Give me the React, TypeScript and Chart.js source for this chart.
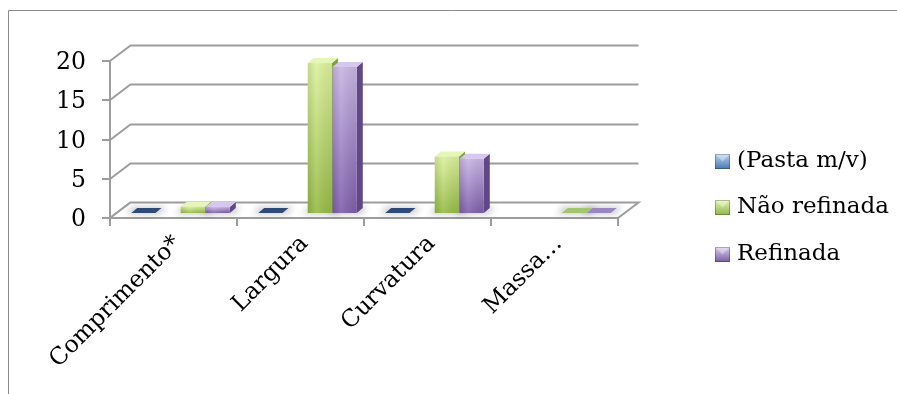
import { useEffect, useRef } from 'react';
import { Chart, registerables } from 'chart.js';

Chart.register(...registerables);

// Data
const categories = ['Comprimento*', 'Largura', 'Curvatura', 'Massa…'];
const pastaValues: (number | null)[] = [0, 0, 0, null];
const naoRefinadaValues: (number | null)[] = [0.8, 19.1, 7.2, 0];
const refinadaValues: (number | null)[] = [0.75, 18.6, 6.9, 0];
const seriesNames = ['(Pasta m/v)', 'Não refinada', 'Refinada'];
const yMin = 0;
const yMax = 20;
const yStep = 5;

// Look
const FONT = '23.5px "DejaVu Serif", "Liberation Serif", serif';
const LEGEND_FONT = '23px "DejaVu Serif", "Liberation Serif", serif';
const GRID = '#9d9d9d';
const DEPTH = { dx: 20.5, dy: -15.5 }; // full depth of the floor / side wall
const BAR_SHIFT = { dx: 7, dy: -5 }; // bars sit this far back from the front edge
const BAR_DEPTH = { dx: 6, dy: -5 }; // thickness of each column

type Palette = { light: string; dark: string; side: string; top: string; flat: string; box: [string, string] };
const palettes: Palette[] = [
  { light: '#7b9ed0', dark: '#2f4f80', side: '#223a60', top: '#5a7fb6', flat: '#2d4a79', box: ['#b9d3f0', '#4a78b5'] },
  { light: '#dcf19c', dark: '#95bb45', side: '#7ea13a', top: '#e6f6b8', flat: '#a3c56f', box: ['#e3f3b0', '#8fb74a'] },
  { light: '#c8b5e4', dark: '#7e5eaa', side: '#5f4788', top: '#d5c7ee', flat: '#9a86c1', box: ['#d8cbeb', '#7b5ea6'] },
];

const threeD = {
  id: 'threeD',
  beforeDatasetsDraw(chart: any) {
    const { ctx, chartArea: a, scales } = chart;
    const x = scales.x;
    const y = scales.y;
    const fl = a.left - BAR_SHIFT.dx;
    const fr = a.right - BAR_SHIFT.dx;
    const fy = (v: number) => y.getPixelForValue(v) - BAR_SHIFT.dy;
    const y0 = fy(yMin);

    ctx.save();

    // outer frame
    ctx.strokeStyle = '#8a8a8a';
    ctx.lineWidth = 1;
    ctx.beginPath();
    ctx.moveTo(8.5, chart.height);
    ctx.lineTo(8.5, 10.5);
    ctx.lineTo(chart.width, 10.5);
    ctx.stroke();

    // back wall gridlines and left wall diagonals
    ctx.strokeStyle = GRID;
    ctx.lineWidth = 2;
    ctx.lineJoin = 'miter';
    y.ticks.forEach((t: any) => {
      const yy = Math.round(fy(t.value));
      ctx.beginPath();
      ctx.moveTo(fl, yy);
      ctx.lineTo(fl + DEPTH.dx, yy + DEPTH.dy);
      if (t.value !== yMin) ctx.lineTo(fr + DEPTH.dx, yy + DEPTH.dy);
      ctx.stroke();
    });

    // floor
    ctx.beginPath();
    ctx.moveTo(fl, y0);
    ctx.lineTo(fr, y0);
    ctx.lineTo(fr + DEPTH.dx, y0 + DEPTH.dy);
    ctx.lineTo(fl + DEPTH.dx, y0 + DEPTH.dy);
    ctx.closePath();
    ctx.fillStyle = '#ffffff';
    ctx.fill();
    ctx.stroke();

    // front value axis with ticks
    const yTop = Math.round(fy(yMax));
    ctx.beginPath();
    ctx.moveTo(fl, yTop);
    ctx.lineTo(fl, y0 + 8);
    y.ticks.forEach((t: any) => {
      const yy = Math.round(fy(t.value));
      ctx.moveTo(fl - 8, yy);
      ctx.lineTo(fl, yy);
    });
    ctx.stroke();

    // category axis ticks
    const half = (x.getPixelForValue(1) - x.getPixelForValue(0)) / 2;
    ctx.beginPath();
    for (let i = 0; i <= categories.length; i++) {
      const xb = Math.round(x.getPixelForValue(0) - half + i * 2 * half - BAR_SHIFT.dx);
      ctx.moveTo(xb, y0);
      ctx.lineTo(xb, y0 + 8);
    }
    ctx.stroke();

    // value labels
    ctx.fillStyle = '#000';
    ctx.font = FONT;
    ctx.textAlign = 'right';
    ctx.textBaseline = 'middle';
    y.ticks.forEach((t: any) => {
      ctx.fillText(String(t.value), fl - 24, fy(t.value) + 2);
    });

    // category labels, rotated
    chart.data.labels.forEach((lab: string, i: number) => {
      const cx = x.getPixelForValue(i) - BAR_SHIFT.dx;
      ctx.save();
      ctx.translate(cx + 4, y0 + 22);
      ctx.rotate(-Math.PI / 4);
      ctx.textAlign = 'right';
      ctx.textBaseline = 'middle';
      ctx.fillText(lab, 0, 0);
      ctx.restore();
    });

    ctx.restore();
  },

  afterDatasetsDraw(chart: any) {
    const { ctx } = chart;
    const bars: { x0: number; x1: number; top: number; base: number; p: Palette }[] = [];
    chart.data.datasets.forEach((ds: any, di: number) => {
      if (ds.paletteIndex === undefined) return;
      const meta = chart.getDatasetMeta(di);
      meta.data.forEach((el: any, i: number) => {
        if (ds.data[i] === null || ds.data[i] === undefined) return;
        const w = el.width;
        bars.push({ x0: el.x - w / 2, x1: el.x + w / 2, top: el.y, base: el.base, p: palettes[ds.paletteIndex] });
      });
    });
    // left to right so neighbours cover hidden side faces
    bars.sort((a, b) => a.x0 - b.x0);

    ctx.save();
    // soft contact shadows on the floor
    ctx.filter = 'blur(3px)';
    ctx.fillStyle = 'rgba(60,60,60,0.28)';
    bars.forEach((b) => {
      ctx.beginPath();
      ctx.moveTo(b.x0 - 5, b.base + 1);
      ctx.lineTo(b.x1 + 5, b.base + 1);
      ctx.lineTo(b.x1 + BAR_DEPTH.dx + 5, b.base + BAR_DEPTH.dy - 1);
      ctx.lineTo(b.x0 + BAR_DEPTH.dx - 5, b.base + BAR_DEPTH.dy - 1);
      ctx.closePath();
      ctx.fill();
    });
    ctx.filter = 'none';

    const { dx, dy } = BAR_DEPTH;
    bars.forEach((b) => {
      const h = b.base - b.top;
      const flat = h < 0.5;
      // side face
      if (!flat) {
        ctx.fillStyle = b.p.side;
        ctx.beginPath();
        ctx.moveTo(b.x1, b.top);
        ctx.lineTo(b.x1 + dx, b.top + dy);
        ctx.lineTo(b.x1 + dx, b.base + dy);
        ctx.lineTo(b.x1, b.base);
        ctx.closePath();
        ctx.fill();
      }
      // top face
      ctx.fillStyle = flat ? b.p.flat : b.p.top;
      ctx.beginPath();
      ctx.moveTo(b.x0, b.top);
      ctx.lineTo(b.x0 + dx, b.top + dy);
      ctx.lineTo(b.x1 + dx, b.top + dy);
      ctx.lineTo(b.x1, b.top);
      ctx.closePath();
      ctx.fill();
      // front face
      if (!flat) {
        const g = ctx.createLinearGradient(0, b.top, 0, b.base);
        g.addColorStop(0, b.p.light);
        g.addColorStop(1, b.p.dark);
        ctx.fillStyle = g;
        ctx.fillRect(b.x0, b.top, b.x1 - b.x0, h);
        // gentle edge shading
        const hg = ctx.createLinearGradient(b.x0, 0, b.x1, 0);
        hg.addColorStop(0, 'rgba(0,0,0,0.10)');
        hg.addColorStop(0.35, 'rgba(255,255,255,0.10)');
        hg.addColorStop(1, 'rgba(0,0,0,0.06)');
        ctx.fillStyle = hg;
        ctx.fillRect(b.x0, b.top, b.x1 - b.x0, h);
      }
    });
    ctx.restore();
  },

  afterDraw(chart: any) {
    const { ctx } = chart;
    ctx.save();
    ctx.font = LEGEND_FONT;
    ctx.textAlign = 'left';
    ctx.textBaseline = 'middle';
    let row = 0;
    chart.data.datasets.forEach((ds: any) => {
      if (ds.paletteIndex === undefined) return;
      const p = palettes[ds.paletteIndex];
      const cy = 161 + row * 46.5;
      const bx = 715;
      const by = Math.round(cy - 7.5);
      const g = ctx.createLinearGradient(0, by, 0, by + 15);
      g.addColorStop(0, p.box[0]);
      g.addColorStop(1, p.box[1]);
      ctx.fillStyle = g;
      ctx.fillRect(bx, by, 15, 15);
      // bevel
      ctx.fillStyle = 'rgba(255,255,255,0.35)';
      ctx.beginPath();
      ctx.moveTo(bx, by);
      ctx.lineTo(bx + 15, by);
      ctx.lineTo(bx + 7.5, by + 7.5);
      ctx.closePath();
      ctx.fill();
      ctx.strokeStyle = 'rgba(0,0,0,0.25)';
      ctx.lineWidth = 1;
      ctx.strokeRect(bx + 0.5, by + 0.5, 14, 14);
      ctx.fillStyle = '#000';
      ctx.fillText(ds.label, 737, cy);
      row++;
    });
    ctx.restore();
  },
};

export default function App() {
  const canvasRef = useRef<HTMLCanvasElement>(null);

  useEffect(() => {
    const canvas = canvasRef.current;
    if (!canvas) return;
    const W = 897;
    const H = 394;
    // front edge of the floor: x 110..618, zero at y 218, top value at y 61
    const area = { left: 110 + BAR_SHIFT.dx, right: 618 + BAR_SHIFT.dx, top: 61 + BAR_SHIFT.dy, bottom: 218 + BAR_SHIFT.dy };
    const hidden = { backgroundColor: 'rgba(0,0,0,0)', borderWidth: 0 };
    const chart = new Chart(canvas, {
      type: 'bar',
      data: {
        labels: categories,
        datasets: [
          { label: seriesNames[0], data: pastaValues, paletteIndex: 0, ...hidden } as any,
          { label: '', data: categories.map(() => null), ...hidden } as any,
          { label: seriesNames[1], data: naoRefinadaValues, paletteIndex: 1, ...hidden } as any,
          { label: seriesNames[2], data: refinadaValues, paletteIndex: 2, ...hidden } as any,
        ],
      },
      options: {
        responsive: false,
        animation: false,
        devicePixelRatio: 1,
        events: [],
        layout: {
          padding: { left: area.left, right: W - area.right, top: area.top, bottom: H - area.bottom },
        },
        datasets: { bar: { categoryPercentage: 0.78, barPercentage: 0.98 } },
        scales: {
          x: { display: false, offset: true },
          y: { display: false, min: yMin, max: yMax, ticks: { stepSize: yStep } },
        },
        plugins: { legend: { display: false }, tooltip: { enabled: false } },
      },
      plugins: [threeD],
    });
    return () => chart.destroy();
  }, []);

  return (
    <div style={{ position: 'fixed', left: 0, top: 0, width: 897, height: 394, background: '#ffffff' }}>
      <canvas ref={canvasRef} width={897} height={394} />
    </div>
  );
}
